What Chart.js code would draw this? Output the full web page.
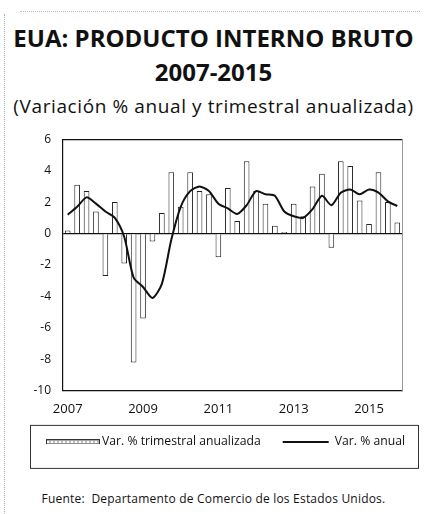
<!DOCTYPE html>
<html><head><meta charset="utf-8">
<script src="https://cdn.jsdelivr.net/npm/chart.js@4/dist/chart.umd.min.js"></script>
<style>
html,body{margin:0;padding:0;background:#fff;}
body{width:427px;height:514px;position:relative;overflow:hidden;font-family:"Open Sans",sans-serif;color:#111;}
#t1{position:absolute;left:0;width:427px;top:21px;text-align:center;font-weight:700;font-size:24px;line-height:34px;}
#sub{position:absolute;left:0;width:427px;top:94px;text-align:center;font-size:19px;letter-spacing:0.6px;line-height:24px;}
#wrap{position:absolute;left:0;top:120px;width:427px;height:360px;}
#foot{position:absolute;left:0;width:427px;top:491px;text-align:center;font-size:12px;letter-spacing:0.2px;line-height:16px;}
#edgeL{position:absolute;left:4px;top:14px;height:500px;border-left:1px dotted #aaa;}
#edgeT{position:absolute;left:20px;top:11px;width:400px;border-top:1px dotted #bbb;}
</style></head><body>
<div id="edgeL"></div><div id="edgeT"></div>
<div id="t1">EUA: PRODUCTO INTERNO BRUTO<br>2007-2015</div>
<div id="sub">(Variación % anual y trimestral anualizada)</div>
<div id="wrap"><canvas id="c" width="427" height="360"></canvas></div>
<div id="foot">Fuente:&nbsp; Departamento de Comercio de los Estados Unidos.</div>
<script>
const quarters = [
 '2007-I','2007-II','2007-III','2007-IV',
 '2008-I','2008-II','2008-III','2008-IV',
 '2009-I','2009-II','2009-III','2009-IV',
 '2010-I','2010-II','2010-III','2010-IV',
 '2011-I','2011-II','2011-III','2011-IV',
 '2012-I','2012-II','2012-III','2012-IV',
 '2013-I','2013-II','2013-III','2013-IV',
 '2014-I','2014-II','2014-III','2014-IV',
 '2015-I','2015-II','2015-III','2015-IV'];
const yearTicks = ['2007','2009','2011','2013','2015'];
const varTrimestral = [
 0.2, 3.1, 2.7, 1.4,
 -2.7, 2.0, -1.9, -8.2,
 -5.4, -0.5, 1.3, 3.9,
 1.7, 3.9, 2.7, 2.5,
 -1.5, 2.9, 0.8, 4.6,
 2.7, 1.9, 0.5, 0.1,
 1.9, 1.1, 3.0, 3.8,
 -0.9, 4.6, 4.3, 2.1,
 0.6, 3.9, 2.0, 0.7];
const varAnual = [
 1.2, 1.7, 2.3, 1.9,
 1.4, 1.0, -0.2, -2.8,
 -3.4, -4.1, -3.2, -0.4,
 1.7, 2.7, 3.0, 2.7,
 1.9, 1.6, 1.25, 1.8,
 2.7, 2.5, 2.4, 1.4,
 1.1, 1.0, 1.55, 2.4,
 1.8, 2.6, 2.8, 2.5,
 2.8, 2.6, 2.05, 1.75];
const legendText = ['Var. % trimestral anualizada','Var. % anual'];

// legend swatch for the bar series
const sw = document.createElement('canvas');
sw.width = 54; sw.height = 5;
(function(){
  const g = sw.getContext('2d');
  g.fillStyle = '#fff'; g.fillRect(0,0,54,5);
  g.strokeStyle = '#333'; g.lineWidth = 1;
  g.strokeRect(0.5,0.5,53,4);
  g.fillStyle = '#777';
  for (let i = 3; i < 52; i += 4) g.fillRect(i,2,2,1);
})();

const framePlugin = {
  id: 'frame',
  afterDraw(chart) {
    const {ctx, chartArea: a} = chart;
    ctx.save();
    ctx.strokeStyle = '#111'; ctx.lineWidth = 1.2;
    ctx.beginPath(); ctx.moveTo(a.left, a.top + 0.5); ctx.lineTo(a.right, a.top + 0.5); ctx.stroke();
    const lg = chart.legend;
    if (lg && lg.legendHitBoxes && lg.legendHitBoxes.length) {
      const hb = lg.legendHitBoxes;
      const cy = hb[0].top + hb[0].height / 2;
      const l = 30, r = 418;
      ctx.strokeStyle = '#333'; ctx.lineWidth = 1;
      ctx.strokeRect(l + 0.5, cy - 17 + 0.5, r - l, 43);
    }
    ctx.restore();
  }
};

new Chart(document.getElementById('c'), {
  data: {
    labels: quarters,
    datasets: [
      { type: 'bar', label: legendText[0], data: varTrimestral,
        backgroundColor: '#ffffff', borderColor: '#222', borderWidth: 1,
        barPercentage: 0.6, categoryPercentage: 1.0, order: 1, yAxisID: 'y' },
      { type: 'line', label: legendText[1], data: varAnual,
        borderColor: '#111', borderWidth: 2, pointRadius: 0,
        pointStyle: 'line', pointBorderColor: '#111', pointBorderWidth: 2,
        tension: 0.25, fill: false, order: 0, yAxisID: 'y' }
    ]
  },
  options: {
    responsive: false, animation: false,
    layout: { padding: { top: 17, bottom: 22, left: 0, right: 0 } },
    plugins: {
      tooltip: { enabled: false },
      legend: {
        position: 'bottom', align: 'end',
        labels: {
          font: { family: 'Open Sans', size: 12.2 }, color: '#111',
          usePointStyle: true, pointStyleWidth: 46, boxHeight: 5, padding: 22,
          generateLabels(chart) {
            const items = Chart.defaults.plugins.legend.labels.generateLabels(chart);
            items.forEach(it => {
              if (it.datasetIndex === 0) { it.pointStyle = sw; }
              else { it.pointStyle = 'line'; it.strokeStyle = '#111'; it.lineWidth = 2; }
            });
            items.sort((a, b) => a.datasetIndex - b.datasetIndex);
            return items;
          }
        }
      }
    },
    scales: {
      x: {
        type: 'category', position: 'bottom',
        grid: { display: false, drawTicks: false },
        border: { display: true, color: '#111', width: 1.2 },
        ticks: {
          autoSkip: false, maxRotation: 0, padding: 11,
          font: { family: 'Open Sans', size: 13 }, color: '#111',
          callback: (v, i) => (i % 8 === 0 ? yearTicks[i / 8] : '')
        },
        afterFit: s => { s.height = 23; }
      },
      y: {
        position: 'left', min: -10, max: 6,
        ticks: { stepSize: 2, padding: 12, font: { family: 'Open Sans', size: 12 }, color: '#111' },
        grid: {
          drawTicks: false,
          color: c => (c.tick && c.tick.value === 0 ? '#111' : 'rgba(0,0,0,0)'),
          lineWidth: c => (c.tick && c.tick.value === 0 ? 1.3 : 0)
        },
        border: { display: true, color: '#111', width: 1.2 },
        afterFit: s => { s.width = 63; }
      },
      y2: {
        position: 'right', display: true, min: -10, max: 6,
        ticks: { display: false },
        grid: { display: false, drawTicks: false },
        border: { display: true, color: '#999', width: 1, dash: [1, 3] },
        afterFit: s => { s.width = 25; }
      }
    }
  },
  plugins: [framePlugin]
});
</script>
</body></html>
